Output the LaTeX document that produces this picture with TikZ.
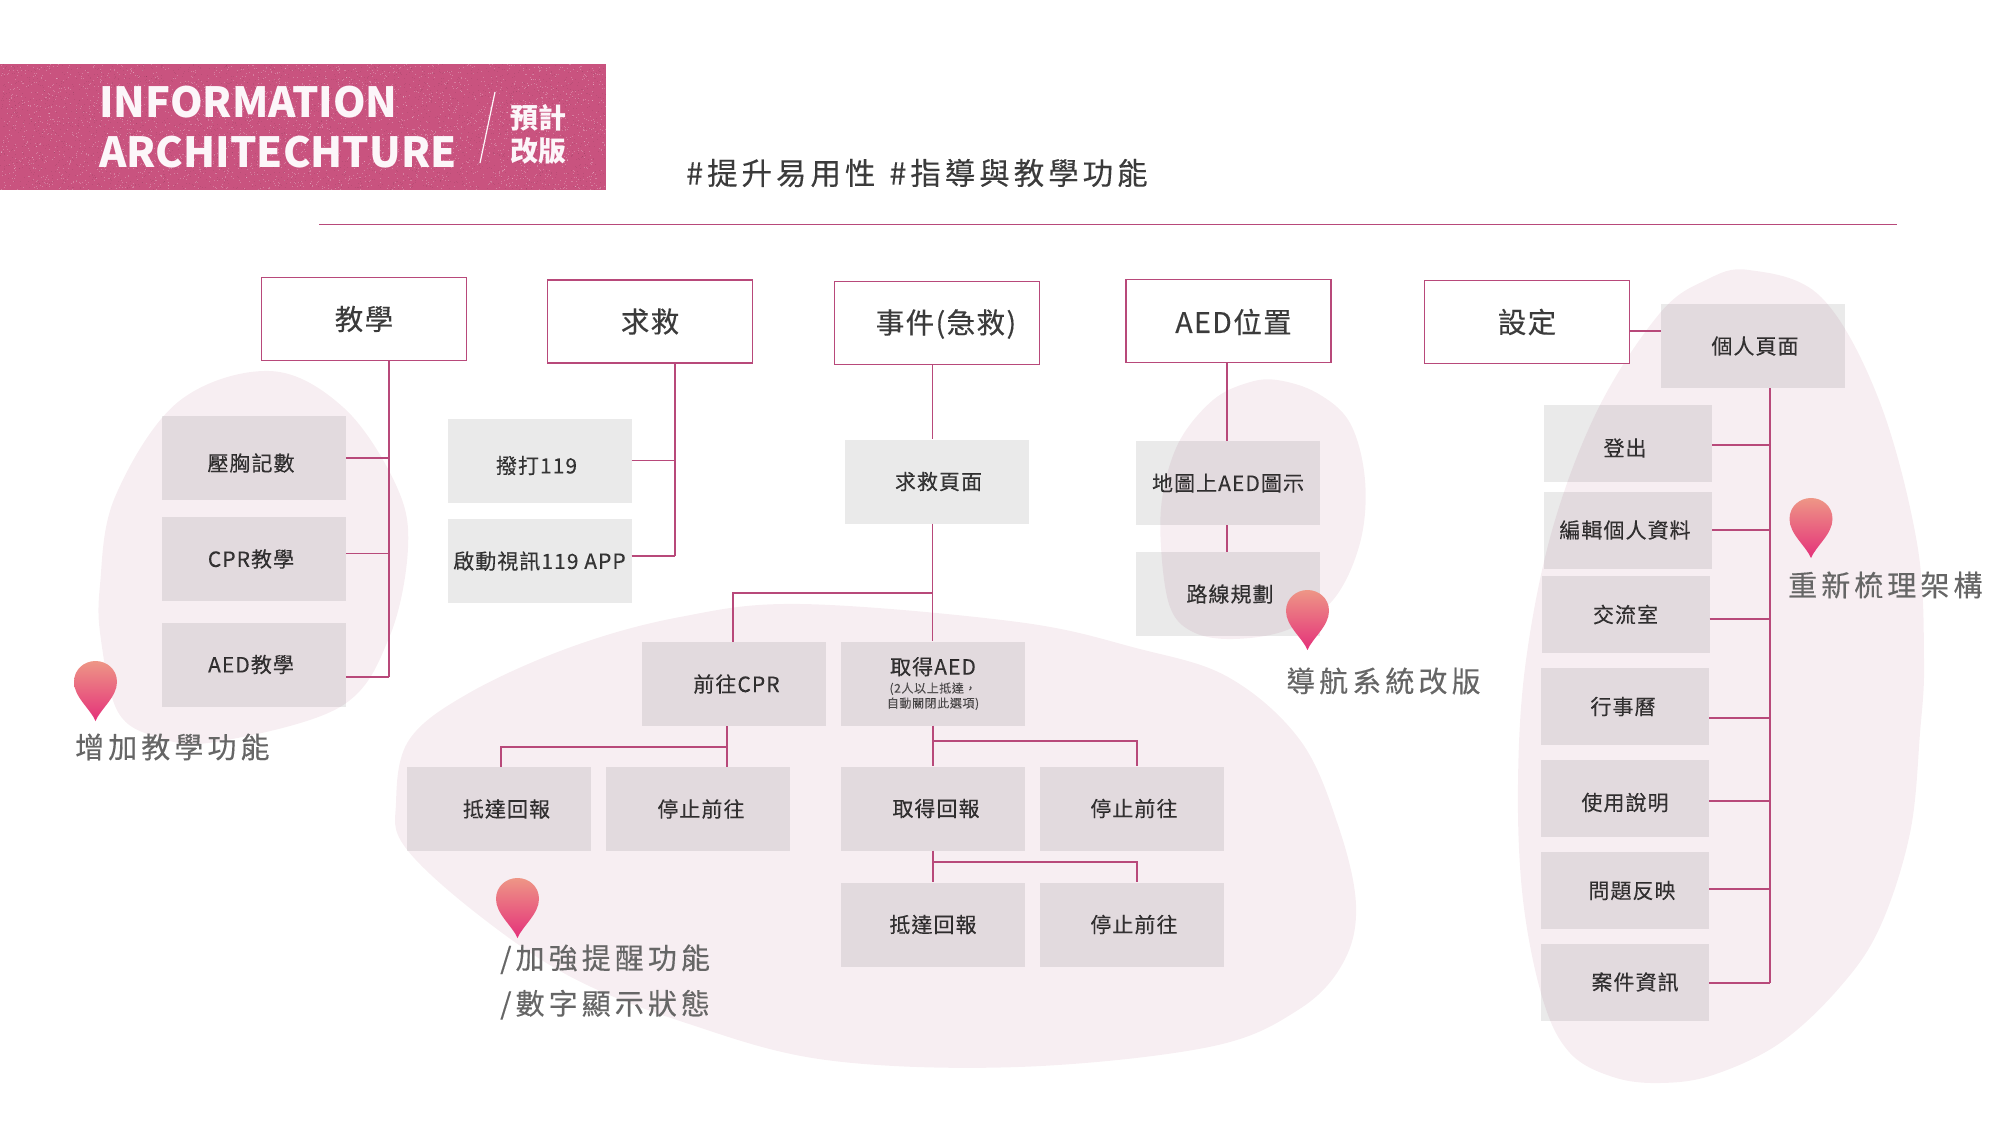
\documentclass[tikz,border=0pt]{standalone}
\usepackage{fontspec}
\setmainfont{Noto Sans CJK TC}
\newfontfamily\boxfont{Noto Sans CJK TC}[LetterSpace=5,FakeBold=0.15]
\newfontfamily\headfont{Noto Sans CJK TC}[LetterSpace=5,FakeBold=0.3]
\newfontfamily\notefont{Noto Sans CJK TC}[LetterSpace=14,FakeBold=0.3]
\newfontfamily\tagfont{Noto Sans CJK TC}[LetterSpace=13,FakeBold=0.2]
\usetikzlibrary{
	positioning,
	calc,
	backgrounds
}
\definecolor{bandpink}{HTML}{C9537F}
\definecolor{linepink}{HTML}{B8497A}
\definecolor{blobpink}{HTML}{F7EEF2}
\definecolor{boxgrey}{HTML}{EAEAEA}
\definecolor{ink}{HTML}{3B3B3B}
\definecolor{noteink}{HTML}{666666}
\definecolor{pintop}{HTML}{EE9686}
\definecolor{pinbottom}{HTML}{E4317A}
\newcommand{\smallnote}[1]{{\fontsize{12}{14}\selectfont\color{noteink}#1}}

\begin{document}
\begin{tikzpicture}[
    x=1pt, y=-1pt,
    blob/.style={fill=blobpink, draw=none},
    topbox/.style={rectangle, draw=linepink, line width=1.7pt, fill=white, minimum width=205pt, minimum height=83pt, inner sep=0pt, font={\headfont\fontsize{28.5}{32}\selectfont}, text=ink},
    toplabel/.style={inner sep=0pt, font={\headfont\fontsize{28.5}{32}\selectfont}, text=ink},
    box/.style={rectangle, fill=boxgrey, minimum width=184pt, minimum height=84pt, inner sep=0pt, font={\boxfont\fontsize{21}{24}\selectfont}, text=ink},
    narrowbox/.style={box, minimum width=168pt, minimum height=77pt},
    boxlabel/.style={inner sep=0pt, font={\boxfont\fontsize{21}{24}\selectfont}, text=ink},
    link/.style={draw=linepink, line width=1.6pt},
    note/.style={anchor=west, inner sep=0pt, font={\notefont\fontsize{29}{45.5}\selectfont}, text=noteink},
    marker/.pic={
        \shade[top color=pintop, bottom color=pinbottom]
            (0,0) .. controls (-5,-12) and (-21.5,-24) .. (-21.5,-39)
            .. controls (-21.5,-52) and (-11,-60) .. (0,-60)
            .. controls (11,-60) and (21.5,-52) .. (21.5,-39)
            .. controls (21.5,-24) and (5,-12) .. (0,0) -- cycle;
    }
]
\useasboundingbox (0,0) rectangle (2000,1125);

% Blobs
\fill[blob] plot[smooth cycle, tension=0.6] coordinates {(270,371) (344,408) (396,485) (408,548) (389,638) (340,707) (215,742) (157,737) (118,712) (101,640) (100,585) (115,497) (178,402)};
\fill[blob] plot[smooth cycle, tension=0.6] coordinates {(801,604) (1018,622) (1136,648) (1228,677) (1300,740) (1338,825) (1356,905) (1343,963) (1298,1010) (1209,1047) (1018,1067) (826,1060) (686,1023) (571,977) (476,913) (405,847) (396,803) (409,740) (469,693) (571,647) (680,617)};
\fill[blob] plot[smooth cycle, tension=0.6] coordinates {(1277,380) (1317,393) (1350,423) (1365,480) (1360,543) (1333,600) (1287,630) (1233,639) (1193,632) (1170,607) (1161,547) (1163,493) (1180,440) (1213,400) (1247,383)};
\fill[blob] plot[smooth cycle, tension=0.6] coordinates {(1749,270) (1821,297) (1879,400) (1917,543) (1924,660) (1920,733) (1910,833) (1880,927) (1840,987) (1780,1043) (1713,1075) (1660,1083) (1613,1077) (1570,1053) (1543,1000) (1523,900) (1518,783) (1526,660) (1553,527) (1599,407) (1660,313) (1706,280)};

% Title band
\fill[bandpink] (0,64) rectangle (606,190);
\pgfmathsetseed{29}
\foreach \i in {1,...,3000} {
    \fill[white, opacity=0.25] ({rnd*605},{64+rnd*125}) rectangle +(1,1);
    \fill[black, opacity=0.07] ({rnd*605},{64+rnd*125}) rectangle +(1,1);
}
\node[anchor=west, inner sep=0pt, text=white!95!bandpink, font={\bfseries\fontsize{41.5}{50}\selectfont}] (titleone) at (99,102) {INFORMATION};
\node[anchor=west, inner sep=0pt, text=white!95!bandpink, font={\bfseries\fontsize{41.5}{50}\selectfont}] (titletwo) at (99,152) {ARCHITECHTURE};
\draw[white!95!bandpink, line width=1.2pt] (495,92) -- (480,163);
\node[inner sep=0pt, text=white!95!bandpink, align=center, font={\bfseries\fontsize{28}{33}\selectfont}] (titlecn) at (538,134) {預計\\改版};

\node[anchor=west, inner sep=0pt, text=ink, font={\tagfont\fontsize{30.5}{36}\selectfont}] (hashtags) at (686,173) {\#提升易用性\hspace{14pt}\#指導與教學功能};
\coordinate (ruleleft) at (319,224.5);
\coordinate (ruleright) at (1897,224.5);
\draw[linepink, line width=1.2pt] (ruleleft) -- (ruleright);

% Top boxes
\node[topbox] (teach) at (364,319) {教學};
\node[topbox] (help) at (650,321.5) {求救};
\node[topbox, label={[toplabel,xshift=9pt,yshift=-1pt]center:事件(急救)}] (event) at (937,323) {};
\node[topbox, label={[toplabel,xshift=5pt,yshift=-1pt]center:AED位置}] (aedpos) at (1228.5,321) {};
\node[topbox] (setting) at (1527,322) {設定};

% Grey boxes
\begin{scope}[blend mode=multiply]
\node[box, label={[boxlabel,xshift=-3pt,yshift=-5pt]center:壓胸記數}] (press) at (254,458) {};
\node[box, label={[boxlabel,xshift=-3pt]center:CPR教學}] (cprteach) at (254,559) {};
\node[box, label={[boxlabel,xshift=-3pt]center:AED教學}] (aedteach) at (254,664.5) {};
\node[box, label={[boxlabel,xshift=-3pt,yshift=-5pt]center:撥打119}] (call) at (539.5,460.5) {};
\node[box, label={[boxlabel]center:啟動視訊119 APP}] (video) at (539.5,561) {};
\node[box, label={[boxlabel,xshift=2pt]center:求救頁面}] (helppage) at (936.5,481.5) {};
\node[box, label={[boxlabel,xshift=3pt]center:前往CPR}] (gocpr) at (733.5,684) {};
\node[box, align=center] (getaed) at (933,683.5) {取得AED\\[-6pt]\smallnote{(2人以上抵達，}\\[-9pt]\smallnote{自動關閉此選項)}};
\node[box, label={[boxlabel,xshift=8pt]center:抵達回報}] (arrive) at (498.5,809) {};
\node[box, label={[boxlabel,xshift=3pt]center:停止前往}] (stopcpr) at (698,809) {};
\node[box, label={[boxlabel,xshift=3pt]center:取得回報}] (gotreport) at (933,808.5) {};
\node[box, label={[boxlabel,xshift=2pt]center:停止前往}] (stopaed) at (1132,808.5) {};
\node[box, label={[boxlabel]center:抵達回報}] (arrivetwo) at (933,924.5) {};
\node[box, label={[boxlabel,xshift=2pt]center:停止前往}] (stoptwo) at (1132,924.5) {};
\node[box, label={[boxlabel]center:地圖上AED圖示}] (mappage) at (1228,483) {};
\node[box, label={[boxlabel,xshift=2pt]center:路線規劃}] (route) at (1228,594) {};
\node[box, label={[boxlabel,xshift=2pt]center:個人頁面}] (profile) at (1753,346) {};
\node[narrowbox, label={[boxlabel,xshift=-3pt,yshift=-5pt]center:登出}] (logout) at (1628,443) {};
\node[narrowbox, label={[boxlabel,xshift=-3pt]center:編輯個人資料}] (editinfo) at (1628,530) {};
\node[narrowbox, label={[boxlabel]center:交流室}] (forum) at (1625.5,614.5) {};
\node[narrowbox, label={[boxlabel,xshift=-2pt]center:行事曆}] (calendar) at (1625,706.5) {};
\node[narrowbox, label={[boxlabel,yshift=-4pt]center:使用說明}] (manual) at (1625,798.5) {};
\node[narrowbox, label={[boxlabel,xshift=7pt]center:問題反映}] (report) at (1625,890.5) {};
\node[narrowbox, label={[boxlabel,xshift=10pt]center:案件資訊}] (cases) at (1625,982) {};
\end{scope}

% Bus coordinates
\coordinate (teachbus) at (389,677);
\coordinate (helpbus) at (675,556);
\coordinate (eventbus) at (932.5,593);
\coordinate (eventleft) at (733,593);
\coordinate (cprbus) at (727,747);
\coordinate (cprleft) at (501,747);
\coordinate (aedbus) at (933,741);
\coordinate (aedright) at (1137,741);
\coordinate (reportbus) at (933,862);
\coordinate (reportright) at (1137,862);
\coordinate (aedline) at (1227,441);
\coordinate (setbus) at (1770,983);

% Connectors
\draw[link] (teachbus |- teach.south) -- (teachbus);
\draw[link] (press.east) -- (press.east -| teachbus);
\draw[link] ([yshift=5.5pt]cprteach.east) -- ([yshift=5.5pt]cprteach.east -| teachbus);
\draw[link] (teachbus -| aedteach.east) -- (teachbus);
\draw[link] (helpbus |- help.south) -- (helpbus);
\draw[link] (call.east) -- (call.east -| helpbus);
\draw[link] (helpbus -| video.east) -- (helpbus);
\draw[link] (eventbus |- event.south) -- (eventbus |- helppage.north);
\draw[link] (eventbus |- helppage.south) -- (eventbus |- getaed.north);
\draw[link] (eventbus) -- (eventleft) -- (eventleft |- gocpr.north);
\draw[link] (cprbus |- gocpr.south) -- (cprbus |- stopcpr.north);
\draw[link] (cprbus) -- (cprleft) -- (cprleft |- arrive.north);
\draw[link] (getaed.south) -- (gotreport.north);
\draw[link] (aedbus) -- (aedright) -- (aedright |- stopaed.north);
\draw[link] (gotreport.south) -- (arrivetwo.north);
\draw[link] (reportbus) -- (reportright) -- (reportright |- stoptwo.north);
\draw[link] (aedline |- aedpos.south) -- (aedline);
\draw[link] (aedline |- mappage.south) -- (aedline |- route.north);
\draw[link] ([yshift=-9pt]setting.east) -- ([yshift=-9pt]setting.east -| profile.west);
\draw[link] (setbus |- profile.south) -- (setbus);
\draw[link] ([yshift=-2pt]logout.east) -- ([yshift=-2pt]logout.east -| setbus);
\draw[link] (editinfo.east) -- (editinfo.east -| setbus);
\draw[link] ([yshift=-4.5pt]forum.east) -- ([yshift=-4.5pt]forum.east -| setbus);
\draw[link] ([yshift=-11.5pt]calendar.east) -- ([yshift=-11.5pt]calendar.east -| setbus);
\draw[link] ([yshift=-2.5pt]manual.east) -- ([yshift=-2.5pt]manual.east -| setbus);
\draw[link] ([yshift=1.5pt]report.east) -- ([yshift=1.5pt]report.east -| setbus);
\draw[link] (setbus -| cases.east) -- (setbus);

% Notes
\pic at (95.5,721) {marker};
\pic at (1307.5,650) {marker};
\pic at (517.5,938) {marker};
\pic at (1811,558) {marker};
\node[note] (noteteach) at (75,747) {增加教學功能};
\node[note] (notenav) at (1286,681) {導航系統改版};
\node[note, align=left] (notealert) at (500,982) {/加強提醒功能\\/數字顯示狀態};
\node[note] (notearch) at (1788,585) {重新梳理架構};

\end{tikzpicture}
\end{document}
